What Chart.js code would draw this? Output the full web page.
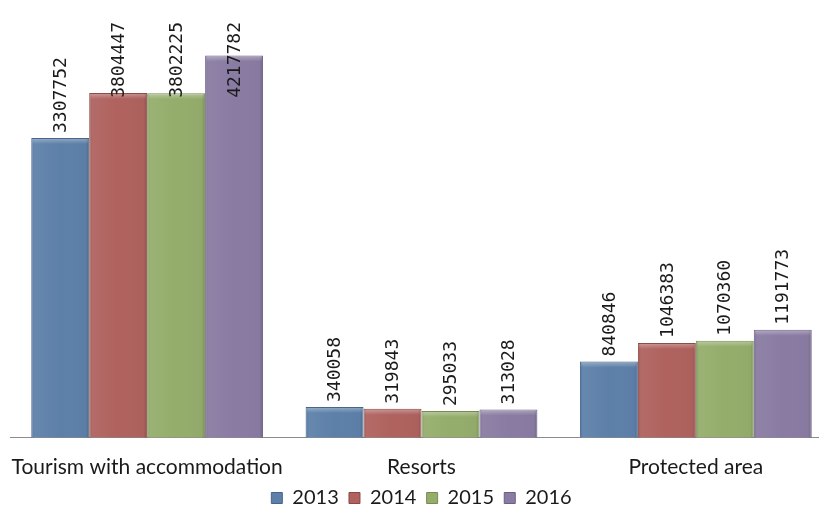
<!DOCTYPE html>
<html>
<head>
<meta charset="utf-8">
<script src="https://cdn.jsdelivr.net/npm/chart.js@4/dist/chart.umd.min.js"></script>
<style>
  html, body { margin: 0; padding: 0; background: #fff; overflow: hidden; }
  #wrap { width: 845px; height: 511px; }
</style>
</head>
<body>
<div id="wrap"><canvas id="chart" width="845" height="511"></canvas></div>
<script>
// chart data
const categories = ['Tourism with accommodation', 'Resorts', 'Protected area'];
const years = ['2013', '2014', '2015', '2016'];
const values2013 = [3307752, 340058, 840846];
const values2014 = [3804447, 319843, 1046383];
const values2015 = [3802225, 295033, 1070360];
const values2016 = [4217782, 313028, 1191773];
const barColors = ['#5d80a9', '#af625e', '#94ad6b', '#897ba2'];
const edgeColors = ['#46658a', '#8c4845', '#768c52', '#6b5f84'];

const seriesValues = [values2013, values2014, values2015, values2016];

// draw rotated value labels above each bar,
// pushed down into the bar when they would run off the top
const valueLabels = {
    id: 'valueLabels',
    afterDatasetsDraw(chart) {
        const ctx = chart.ctx;
        const topLimit = 22;
        ctx.save();
        ctx.font = '18px "DejaVu Sans Mono"';
        ctx.fillStyle = '#1a1a1a';
        ctx.textAlign = 'left';
        ctx.textBaseline = 'middle';
        chart.data.datasets.forEach((ds, i) => {
            chart.getDatasetMeta(i).data.forEach((bar, j) => {
                const text = String(ds.data[j]);
                const len = ctx.measureText(text).width;
                let start = bar.y - 5;
                if (start - len < topLimit) start = topLimit + len;
                ctx.save();
                ctx.translate(bar.x, start);
                ctx.rotate(-Math.PI / 2);
                ctx.fillText(text, 0, 1);
                ctx.restore();
            });
        });
        ctx.restore();
    }
};

// soft bevel on the bars
const bevel = {
    id: 'bevel',
    afterDatasetsDraw(chart) {
        const ctx = chart.ctx;
        ctx.save();
        chart.data.datasets.forEach((ds, i) => {
            chart.getDatasetMeta(i).data.forEach(bar => {
                const left = bar.x - bar.width / 2;
                const w = bar.width;
                const h = bar.base - bar.y;
                let g = ctx.createLinearGradient(0, bar.y, 0, bar.y + 6);
                g.addColorStop(0, 'rgba(255,255,255,0.35)');
                g.addColorStop(1, 'rgba(255,255,255,0)');
                ctx.fillStyle = g;
                ctx.fillRect(left + 1, bar.y + 1, w - 2, Math.min(6, h - 2));
                g = ctx.createLinearGradient(left, 0, left + w, 0);
                g.addColorStop(0, 'rgba(0,0,0,0.12)');
                g.addColorStop(0.06, 'rgba(255,255,255,0.06)');
                g.addColorStop(0.5, 'rgba(255,255,255,0)');
                g.addColorStop(0.94, 'rgba(0,0,0,0.02)');
                g.addColorStop(1, 'rgba(0,0,0,0.18)');
                ctx.fillStyle = g;
                ctx.fillRect(left + 1, bar.y + 1, w - 2, h - 1);
            });
        });
        ctx.restore();
    }
};

const datasets = years.map((y, i) => ({
    label: y,
    data: seriesValues[i],
    backgroundColor: barColors[i],
    borderColor: edgeColors[i],
    borderWidth: 1,
    barPercentage: 1,
    categoryPercentage: 0.845
}));

new Chart(document.getElementById('chart'), {
    type: 'bar',
    data: { labels: categories, datasets: datasets },
    options: {
        responsive: false,
        animation: false,
        layout: { padding: { left: 10, right: 12, top: 0, bottom: -7 } },
        scales: {
            x: {
                grid: { display: false, drawTicks: false },
                border: { display: true, color: '#8c8c8c', width: 1 },
                ticks: {
                    color: '#1a1a1a',
                    font: { family: 'Lato', size: 21 },
                    padding: 17,
                    maxRotation: 0,
                    minRotation: 0,
                    autoSkip: false
                },
                afterFit(scale) {
                    scale.height -= 9;
                    // let the long first label hang over the edge like the original
                    scale.paddingLeft = 0;
                    scale.paddingRight = 0;
                }
            },
            y: {
                display: false,
                min: 0,
                max: 4830000
            }
        },
        plugins: {
            legend: {
                position: 'bottom',
                labels: {
                    color: '#1a1a1a',
                    font: { family: 'Lato', size: 20 },
                    boxWidth: 11,
                    boxHeight: 11,
                    padding: 0,
                    // trailing spaces keep the items spread like the original
                    generateLabels(chart) {
                        const items = Chart.defaults.plugins.legend.labels.generateLabels(chart);
                        items.forEach((item, i) => {
                            if (i < items.length - 1) item.text = item.text + '  ';
                        });
                        return items;
                    }
                }
            },
            tooltip: { enabled: false }
        }
    },
    plugins: [bevel, valueLabels]
});
</script>
</body>
</html>
